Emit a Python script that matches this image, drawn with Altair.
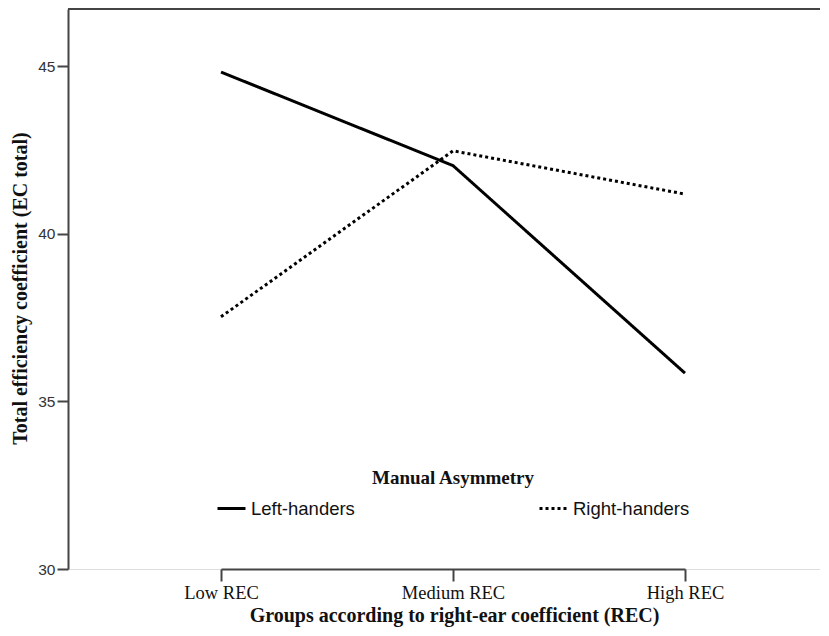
import altair as alt
import pandas as pd

groups = ["Low REC", "Medium REC", "High REC"]
left_handers = [44.82, 42.03, 35.84]
right_handers = [37.52, 42.47, 41.18]
series = ["Left-handers", "Right-handers"]
y_ticks = [30, 35, 40, 45]

rows = []
for g, v in zip(groups, left_handers):
    rows.append({"group": g, "value": v, "hand": series[0]})
for g, v in zip(groups, right_handers):
    rows.append({"group": g, "value": v, "hand": series[1]})
df = pd.DataFrame(rows)

W, H = 752, 560
SERIF = "Liberation Serif"
SANS = "Liberation Sans"

lines = alt.Chart(df).mark_line(color="black", strokeWidth=3, strokeCap="butt").encode(
    x=alt.X("group:N", sort=groups,
            scale=alt.Scale(type="point", range=[153, 617], padding=0),
            axis=alt.Axis(title="Groups according to right-ear coefficient (REC)",
                          labelAngle=0, labelFont=SERIF, labelFontSize=18.5, labelColor="#111",
                          labelPadding=2, tickSize=12, tickColor="#444", tickWidth=2,
                          domainColor="#444", domainWidth=2,
                          titleFont=SERIF, titleFontSize=20, titleFontWeight="bold",
                          titleColor="#111", titleX=386, titleY=46,
                          titleBaseline="middle", titleAlign="center")),
    y=alt.Y("value:Q",
            scale=alt.Scale(domain=[30, 46.7], nice=False, zero=False),
            axis=alt.Axis(title="Total efficiency coefficient (EC total)", values=y_ticks,
                          grid=False, labelFont=SANS, labelFontSize=15.5, labelColor="#333",
                          labelPadding=2, tickSize=11, tickColor="#444", tickWidth=2,
                          domainColor="#444", domainWidth=2,
                          titleFont=SERIF, titleFontSize=20, titleFontWeight="bold",
                          titleColor="#111", titleX=-48, titleY=279, titleAngle=-90,
                          titleBaseline="middle", titleAlign="center")),
    strokeDash=alt.StrokeDash("hand:N",
                              scale=alt.Scale(domain=series, range=[[1, 0], [3, 3]]),
                              legend=alt.Legend(title="Manual Asymmetry", orient="none",
                                                legendX=148, legendY=460,
                                                direction="horizontal", columns=2,
                                                columnPadding=178,
                                                symbolType="stroke", symbolSize=784,
                                                symbolStrokeWidth=3, symbolStrokeColor="black",
                                                labelFont=SANS, labelFontSize=18.5,
                                                labelColor="#111", labelOffset=4,
                                                titleFont=SERIF, titleFontSize=19,
                                                titleFontWeight="bold", titleColor="#111",
                                                titleAnchor="middle", titlePadding=5,
                                                titleLimit=400)),
)

top_line = alt.Chart(pd.DataFrame({"k": [0]})).mark_rule(color="#444", strokeWidth=2).encode(
    x=alt.value(0), x2=alt.value(W), y=alt.value(0)
)

chart = alt.layer(lines, top_line).properties(
    width=W, height=H,
    autosize=alt.AutoSizeParams(type="none"),
    padding={"left": 60, "top": 1, "right": 0, "bottom": 59},
).configure_view(stroke=None).configure(background="white")

chart.save("out.html", embed_options={"renderer": "svg", "actions": False})
